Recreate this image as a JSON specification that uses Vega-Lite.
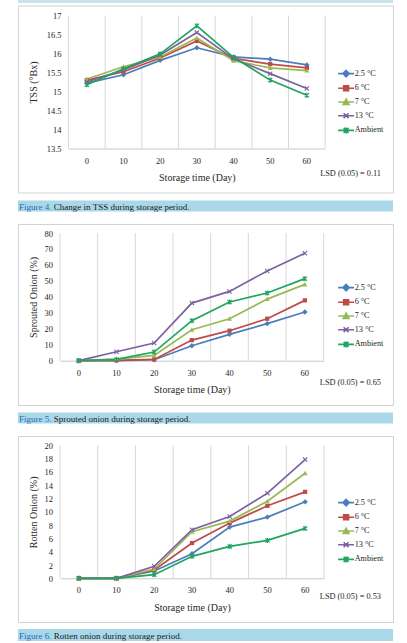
{
  "$schema": "https://vega.github.io/schema/vega-lite/v6.json",
  "background": "white",
  "padding": {"left": 17, "top": 0, "right": 0, "bottom": 0},
  "autosize": {"type": "pad"},
  "config": {
    "view": {"stroke": "#d2d2d2", "strokeWidth": 1},
    "font": "Liberation Serif",
    "axis": {
      "labelFont": "Liberation Serif",
      "titleFont": "Liberation Serif",
      "labelColor": "#262626",
      "titleColor": "#262626",
      "labelFontSize": 8.5,
      "titleFontSize": 10,
      "titleFontWeight": "normal"
    },
    "axisX": {
      "ticks": false,
      "grid": false,
      "domainColor": "#c8c8c8",
      "labelAngle": 0,
      "labelPadding": 7.5,
      "titlePadding": 8
    },
    "axisY": {
      "grid": false,
      "domain": false,
      "ticks": false,
      "labelPadding": 7.5,
      "format": "~r"
    },
    "legend": {
      "title": null,
      "orient": "none",
      "labelFont": "Liberation Serif",
      "labelFontSize": 8.2,
      "labelColor": "#262626",
      "symbolSize": 30,
      "symbolStrokeWidth": 1.6,
      "labelOffset": 4.5,
      "rowPadding": 1.7,
      "padding": 0
    },
    "title": {
      "font": "Liberation Serif",
      "fontSize": 8.3,
      "fontWeight": "normal",
      "color": "#262626",
      "orient": "bottom",
      "anchor": "end",
      "frame": "group",
      "baseline": "top",
      "dx": -12
    }
  },
  "datasets": {
    "tss": [
      {"day": 0, "cond": "2.5 °C", "value": 15.22}, {"day": 10, "cond": "2.5 °C", "value": 15.44}, {"day": 20, "cond": "2.5 °C", "value": 15.82}, {"day": 30, "cond": "2.5 °C", "value": 16.15}, {"day": 40, "cond": "2.5 °C", "value": 15.91}, {"day": 50, "cond": "2.5 °C", "value": 15.85}, {"day": 60, "cond": "2.5 °C", "value": 15.7},
      {"day": 0, "cond": "6 °C", "value": 15.3}, {"day": 10, "cond": "6 °C", "value": 15.52}, {"day": 20, "cond": "6 °C", "value": 15.88}, {"day": 30, "cond": "6 °C", "value": 16.33}, {"day": 40, "cond": "6 °C", "value": 15.87}, {"day": 50, "cond": "6 °C", "value": 15.72}, {"day": 60, "cond": "6 °C", "value": 15.62},
      {"day": 0, "cond": "7 °C", "value": 15.33}, {"day": 10, "cond": "7 °C", "value": 15.65}, {"day": 20, "cond": "7 °C", "value": 15.91}, {"day": 30, "cond": "7 °C", "value": 16.41}, {"day": 40, "cond": "7 °C", "value": 15.81}, {"day": 50, "cond": "7 °C", "value": 15.62}, {"day": 60, "cond": "7 °C", "value": 15.55},
      {"day": 0, "cond": "13 °C", "value": 15.25}, {"day": 10, "cond": "13 °C", "value": 15.57}, {"day": 20, "cond": "13 °C", "value": 15.96}, {"day": 30, "cond": "13 °C", "value": 16.55}, {"day": 40, "cond": "13 °C", "value": 15.86}, {"day": 50, "cond": "13 °C", "value": 15.47}, {"day": 60, "cond": "13 °C", "value": 15.08},
      {"day": 0, "cond": "Ambient", "value": 15.18}, {"day": 10, "cond": "Ambient", "value": 15.6}, {"day": 20, "cond": "Ambient", "value": 15.99}, {"day": 30, "cond": "Ambient", "value": 16.73}, {"day": 40, "cond": "Ambient", "value": 15.9}, {"day": 50, "cond": "Ambient", "value": 15.3}, {"day": 60, "cond": "Ambient", "value": 14.9}
    ],
    "sprout": [
      {"day": 0, "cond": "2.5 °C", "value": 0}, {"day": 10, "cond": "2.5 °C", "value": 0.1}, {"day": 20, "cond": "2.5 °C", "value": 0.6}, {"day": 30, "cond": "2.5 °C", "value": 9.4}, {"day": 40, "cond": "2.5 °C", "value": 16.5}, {"day": 50, "cond": "2.5 °C", "value": 23.2}, {"day": 60, "cond": "2.5 °C", "value": 30.5},
      {"day": 0, "cond": "6 °C", "value": 0}, {"day": 10, "cond": "6 °C", "value": 0.2}, {"day": 20, "cond": "6 °C", "value": 0.8}, {"day": 30, "cond": "6 °C", "value": 12.9}, {"day": 40, "cond": "6 °C", "value": 18.8}, {"day": 50, "cond": "6 °C", "value": 26.3}, {"day": 60, "cond": "6 °C", "value": 37.8},
      {"day": 0, "cond": "7 °C", "value": 0}, {"day": 10, "cond": "7 °C", "value": 1}, {"day": 20, "cond": "7 °C", "value": 3.3}, {"day": 30, "cond": "7 °C", "value": 19.4}, {"day": 40, "cond": "7 °C", "value": 26.3}, {"day": 50, "cond": "7 °C", "value": 38.6}, {"day": 60, "cond": "7 °C", "value": 47.8},
      {"day": 0, "cond": "13 °C", "value": 0}, {"day": 10, "cond": "13 °C", "value": 5.6}, {"day": 20, "cond": "13 °C", "value": 11.1}, {"day": 30, "cond": "13 °C", "value": 36.1}, {"day": 40, "cond": "13 °C", "value": 43.4}, {"day": 50, "cond": "13 °C", "value": 56.2}, {"day": 60, "cond": "13 °C", "value": 67.3},
      {"day": 0, "cond": "Ambient", "value": 0}, {"day": 10, "cond": "Ambient", "value": 0.8}, {"day": 20, "cond": "Ambient", "value": 5.4}, {"day": 30, "cond": "Ambient", "value": 25.1}, {"day": 40, "cond": "Ambient", "value": 36.8}, {"day": 50, "cond": "Ambient", "value": 42.4}, {"day": 60, "cond": "Ambient", "value": 51.4}
    ],
    "rot": [
      {"day": 0, "cond": "2.5 °C", "value": 0}, {"day": 10, "cond": "2.5 °C", "value": 0}, {"day": 20, "cond": "2.5 °C", "value": 1.1}, {"day": 30, "cond": "2.5 °C", "value": 3.7}, {"day": 40, "cond": "2.5 °C", "value": 7.7}, {"day": 50, "cond": "2.5 °C", "value": 9.2}, {"day": 60, "cond": "2.5 °C", "value": 11.5},
      {"day": 0, "cond": "6 °C", "value": 0}, {"day": 10, "cond": "6 °C", "value": 0}, {"day": 20, "cond": "6 °C", "value": 1.25}, {"day": 30, "cond": "6 °C", "value": 5.3}, {"day": 40, "cond": "6 °C", "value": 8.3}, {"day": 50, "cond": "6 °C", "value": 10.9}, {"day": 60, "cond": "6 °C", "value": 13},
      {"day": 0, "cond": "7 °C", "value": 0}, {"day": 10, "cond": "7 °C", "value": 0}, {"day": 20, "cond": "7 °C", "value": 1.4}, {"day": 30, "cond": "7 °C", "value": 7}, {"day": 40, "cond": "7 °C", "value": 8.6}, {"day": 50, "cond": "7 °C", "value": 11.6}, {"day": 60, "cond": "7 °C", "value": 15.8},
      {"day": 0, "cond": "13 °C", "value": 0}, {"day": 10, "cond": "13 °C", "value": 0}, {"day": 20, "cond": "13 °C", "value": 1.8}, {"day": 30, "cond": "13 °C", "value": 7.3}, {"day": 40, "cond": "13 °C", "value": 9.3}, {"day": 50, "cond": "13 °C", "value": 12.8}, {"day": 60, "cond": "13 °C", "value": 17.85},
      {"day": 0, "cond": "Ambient", "value": 0}, {"day": 10, "cond": "Ambient", "value": 0}, {"day": 20, "cond": "Ambient", "value": 0.55}, {"day": 30, "cond": "Ambient", "value": 3.3}, {"day": 40, "cond": "Ambient", "value": 4.8}, {"day": 50, "cond": "Ambient", "value": 5.7}, {"day": 60, "cond": "Ambient", "value": 7.5}
    ],
    "cap4": [{"num": "Figure 4.", "desc": "Change in TSS during storage period."}],
    "cap5": [{"num": "Figure 5.", "desc": "Sprouted onion during storage period."}],
    "cap6": [{"num": "Figure 6.", "desc": "Rotten onion during storage period."}],
    "blank": [{"t": ""}]
  },
  "spacing": 11,
  "resolve": {
    "scale": {"color": "independent", "shape": "independent"},
    "legend": {"color": "independent", "shape": "independent"}
  },
  "vconcat": [
    {
      "spacing": 1.5,
      "resolve": {
        "scale": {"color": "independent", "shape": "independent"},
        "legend": {"color": "independent", "shape": "independent"}
      },
      "vconcat": [
        {
          "width": 375, "height": 3,
          "view": {"fill": "#c9e2ec", "stroke": null},
          "data": {"name": "blank"},
          "mark": {"type": "text", "fontSize": 1},
          "encoding": {"text": {"field": "t"}}
        },
        {
          "spacing": 7,
          "resolve": {
            "scale": {"color": "independent", "shape": "independent"},
            "legend": {"color": "independent", "shape": "independent"}
          },
          "vconcat": [
            {
              "width": 375, "height": 187,
              "view": {"stroke": "#d2d2d2", "strokeWidth": 1},
              "data": {"name": "tss"},
              "title": {"text": "LSD (0.05) = 0.11", "offset": -24},
              "encoding": {
                "x": {"field": "day", "type": "ordinal", "bandPosition": 0.5,
                  "scale": {"type": "band", "range": [50.5, 307.2], "paddingInner": 0, "paddingOuter": 0},
                  "axis": {"title": "Storage time (Day)", "offset": -44}},
                "y": {"field": "value", "type": "quantitative",
                  "scale": {"domain": [13.5, 17], "range": [143, 10], "nice": false, "zero": false},
                  "axis": {"title": "TSS (°Bx)", "offset": -50.5, "titlePadding": 8, "values": [13.5, 14, 14.5, 15, 15.5, 16, 16.5, 17]}},
                "color": {"field": "cond", "type": "nominal",
                  "scale": {"domain": ["2.5 °C", "6 °C", "7 °C", "13 °C", "Ambient"], "range": ["#4A7EBB", "#BE4B48", "#98B954", "#7D60A0", "#1EA55E"]},
                  "legend": {"legendX": 324, "legendY": 64}}
              },
              "layer": [
                {"transform": [{"filter": {"field": "cond", "equal": "2.5 °C"}}], "mark": {"type": "rule", "strokeWidth": 1},
                  "encoding": {"x": {"field": "day", "type": "ordinal", "bandPosition": 0}, "y": {"datum": 13.5}, "y2": {"datum": 17}, "color": {"value": "#d9d9d9"}}},
                {"transform": [{"filter": {"field": "day", "equal": 60}}, {"filter": {"field": "cond", "equal": "2.5 °C"}}], "mark": {"type": "rule", "strokeWidth": 1},
                  "encoding": {"x": {"field": "day", "type": "ordinal", "bandPosition": 1}, "y": {"datum": 13.5}, "y2": {"datum": 17}, "color": {"value": "#d9d9d9"}}},
                {"mark": {"type": "line", "strokeWidth": 1.7}},
                {"transform": [{"filter": {"field": "cond", "equal": "2.5 °C"}}], "mark": {"type": "point", "shape": "M0,-1.15L1.15,0L0,1.15L-1.15,0Z", "filled": true, "size": 22, "opacity": 1}},
                {"transform": [{"filter": {"field": "cond", "equal": "6 °C"}}], "mark": {"type": "point", "shape": "M-0.9,-0.9L0.9,-0.9L0.9,0.9L-0.9,0.9Z", "filled": true, "size": 22, "opacity": 1}},
                {"transform": [{"filter": {"field": "cond", "equal": "7 °C"}}], "mark": {"type": "point", "shape": "M0,-1.05L1.05,0.85L-1.05,0.85Z", "filled": true, "size": 22, "opacity": 1}},
                {"transform": [{"filter": {"field": "cond", "equal": "13 °C"}}], "mark": {"type": "point", "shape": "M-0.9,-0.9L0.9,0.9M-0.9,0.9L0.9,-0.9", "filled": false, "size": 22, "opacity": 1, "strokeWidth": 1.1}},
                {"transform": [{"filter": {"field": "cond", "equal": "Ambient"}}], "mark": {"type": "point", "shape": "M-0.9,-0.9L0.9,0.9M-0.9,0.9L0.9,-0.9M0,-1.1L0,1.1", "filled": false, "size": 22, "opacity": 1, "strokeWidth": 1.1}},
                {"transform": [{"filter": "false"}], "mark": {"type": "point", "filled": true, "opacity": 1},
                  "encoding": {"shape": {"field": "cond", "type": "nominal",
                    "scale": {"domain": ["2.5 °C", "6 °C", "7 °C", "13 °C", "Ambient"], "range": ["M-2.9,0L2.9,0M0,-1.15L1.15,0L0,1.15L-1.15,0Z", "M-2.9,0L2.9,0M-0.9,-0.9L0.9,-0.9L0.9,0.9L-0.9,0.9Z", "M-2.9,0L2.9,0M0,-1.05L1.05,0.85L-1.05,0.85Z", "M-2.9,0L2.9,0M-0.9,-0.9L0.9,0.9M-0.9,0.9L0.9,-0.9", "M-2.9,0L2.9,0M-0.9,-0.9L0.9,0.9M-0.9,0.9L0.9,-0.9M0,-1.1L0,1.1"]}}}}
              ]
            },
            {
              "width": 375, "height": 11,
              "view": {"fill": "#a9d8e9", "stroke": null},
              "data": {"name": "cap4"},
              "layer": [
                {"mark": {"type": "text", "align": "left", "baseline": "middle", "x": 1, "y": 6, "fontSize": 9, "font": "Liberation Serif", "color": "#2a6cb5"}, "encoding": {"text": {"field": "num"}}},
                {"mark": {"type": "text", "align": "left", "baseline": "middle", "x": 1, "dx": 34.8, "y": 6, "fontSize": 9, "font": "Liberation Serif", "color": "#1a1a1a"}, "encoding": {"text": {"field": "desc"}}}
              ]
            }
          ]
        }
      ]
    },
    {
      "spacing": 6.5,
      "resolve": {
        "scale": {"color": "independent", "shape": "independent"},
        "legend": {"color": "independent", "shape": "independent"}
      },
      "vconcat": [
        {
          "width": 375, "height": 181,
          "view": {"stroke": "#d2d2d2", "strokeWidth": 1},
          "data": {"name": "sprout"},
          "title": {"text": "LSD (0.05) = 0.65", "offset": -26.8},
          "encoding": {
            "x": {"field": "day", "type": "ordinal", "bandPosition": 0.5,
              "scale": {"type": "band", "range": [42, 305.7], "paddingInner": 0, "paddingOuter": 0},
              "axis": {"title": "Storage time (Day)", "offset": -44.3}},
            "y": {"field": "value", "type": "quantitative",
              "scale": {"domain": [0, 80], "range": [136.7, 9], "nice": false},
              "axis": {"title": "Sprouted Onion (%)", "offset": -42, "titlePadding": 6, "values": [0, 10, 20, 30, 40, 50, 60, 70, 80]}},
            "color": {"field": "cond", "type": "nominal",
              "scale": {"domain": ["2.5 °C", "6 °C", "7 °C", "13 °C", "Ambient"], "range": ["#4A7EBB", "#BE4B48", "#98B954", "#7D60A0", "#1EA55E"]},
              "legend": {"legendX": 324, "legendY": 59.5}}
          },
          "layer": [
            {"transform": [{"filter": {"field": "cond", "equal": "2.5 °C"}}], "mark": {"type": "rule", "strokeWidth": 1},
              "encoding": {"x": {"field": "day", "type": "ordinal", "bandPosition": 0}, "y": {"datum": 0}, "y2": {"datum": 80}, "color": {"value": "#d9d9d9"}}},
            {"transform": [{"filter": {"field": "day", "equal": 60}}, {"filter": {"field": "cond", "equal": "2.5 °C"}}], "mark": {"type": "rule", "strokeWidth": 1},
              "encoding": {"x": {"field": "day", "type": "ordinal", "bandPosition": 1}, "y": {"datum": 0}, "y2": {"datum": 80}, "color": {"value": "#d9d9d9"}}},
            {"mark": {"type": "line", "strokeWidth": 1.7}},
            {"transform": [{"filter": {"field": "cond", "equal": "2.5 °C"}}], "mark": {"type": "point", "shape": "M0,-1.15L1.15,0L0,1.15L-1.15,0Z", "filled": true, "size": 22, "opacity": 1}},
            {"transform": [{"filter": {"field": "cond", "equal": "6 °C"}}], "mark": {"type": "point", "shape": "M-0.9,-0.9L0.9,-0.9L0.9,0.9L-0.9,0.9Z", "filled": true, "size": 22, "opacity": 1}},
            {"transform": [{"filter": {"field": "cond", "equal": "7 °C"}}], "mark": {"type": "point", "shape": "M0,-1.05L1.05,0.85L-1.05,0.85Z", "filled": true, "size": 22, "opacity": 1}},
            {"transform": [{"filter": {"field": "cond", "equal": "13 °C"}}], "mark": {"type": "point", "shape": "M-0.9,-0.9L0.9,0.9M-0.9,0.9L0.9,-0.9", "filled": false, "size": 22, "opacity": 1, "strokeWidth": 1.1}},
            {"transform": [{"filter": {"field": "cond", "equal": "Ambient"}}], "mark": {"type": "point", "shape": "M-0.9,-0.9L0.9,0.9M-0.9,0.9L0.9,-0.9M0,-1.1L0,1.1", "filled": false, "size": 22, "opacity": 1, "strokeWidth": 1.1}},
            {"transform": [{"filter": "false"}], "mark": {"type": "point", "filled": true, "opacity": 1},
              "encoding": {"shape": {"field": "cond", "type": "nominal",
                "scale": {"domain": ["2.5 °C", "6 °C", "7 °C", "13 °C", "Ambient"], "range": ["M-2.9,0L2.9,0M0,-1.15L1.15,0L0,1.15L-1.15,0Z", "M-2.9,0L2.9,0M-0.9,-0.9L0.9,-0.9L0.9,0.9L-0.9,0.9Z", "M-2.9,0L2.9,0M0,-1.05L1.05,0.85L-1.05,0.85Z", "M-2.9,0L2.9,0M-0.9,-0.9L0.9,0.9M-0.9,0.9L0.9,-0.9", "M-2.9,0L2.9,0M-0.9,-0.9L0.9,0.9M-0.9,0.9L0.9,-0.9M0,-1.1L0,1.1"]}}}}
          ]
        },
        {
          "width": 375, "height": 11,
          "view": {"fill": "#a9d8e9", "stroke": null},
          "data": {"name": "cap5"},
          "layer": [
            {"mark": {"type": "text", "align": "left", "baseline": "middle", "x": 1, "y": 6, "fontSize": 9, "font": "Liberation Serif", "color": "#2a6cb5"}, "encoding": {"text": {"field": "num"}}},
            {"mark": {"type": "text", "align": "left", "baseline": "middle", "x": 1, "dx": 34.8, "y": 6, "fontSize": 9, "font": "Liberation Serif", "color": "#1a1a1a"}, "encoding": {"text": {"field": "desc"}}}
          ]
        }
      ]
    },
    {
      "spacing": 6,
      "resolve": {
        "scale": {"color": "independent", "shape": "independent"},
        "legend": {"color": "independent", "shape": "independent"}
      },
      "vconcat": [
        {
          "width": 375, "height": 186,
          "view": {"stroke": "#d2d2d2", "strokeWidth": 1},
          "data": {"name": "rot"},
          "title": {"text": "LSD (0.05) = 0.53", "offset": -30.4},
          "encoding": {
            "x": {"field": "day", "type": "ordinal", "bandPosition": 0.5,
              "scale": {"type": "band", "range": [42, 306], "paddingInner": 0, "paddingOuter": 0},
              "axis": {"title": "Storage time (Day)", "offset": -43.7}},
            "y": {"field": "value", "type": "quantitative",
              "scale": {"domain": [0, 20], "range": [142.3, 9.3], "nice": false},
              "axis": {"title": "Rotten Onion (%)", "offset": -42, "titlePadding": 6, "values": [0, 2, 4, 6, 8, 10, 12, 14, 16, 18, 20]}},
            "color": {"field": "cond", "type": "nominal",
              "scale": {"domain": ["2.5 °C", "6 °C", "7 °C", "13 °C", "Ambient"], "range": ["#4A7EBB", "#BE4B48", "#98B954", "#7D60A0", "#1EA55E"]},
              "legend": {"legendX": 324, "legendY": 62.5}}
          },
          "layer": [
            {"transform": [{"filter": {"field": "cond", "equal": "2.5 °C"}}], "mark": {"type": "rule", "strokeWidth": 1},
              "encoding": {"x": {"field": "day", "type": "ordinal", "bandPosition": 0}, "y": {"datum": 0}, "y2": {"datum": 20}, "color": {"value": "#d9d9d9"}}},
            {"transform": [{"filter": {"field": "day", "equal": 60}}, {"filter": {"field": "cond", "equal": "2.5 °C"}}], "mark": {"type": "rule", "strokeWidth": 1},
              "encoding": {"x": {"field": "day", "type": "ordinal", "bandPosition": 1}, "y": {"datum": 0}, "y2": {"datum": 20}, "color": {"value": "#d9d9d9"}}},
            {"mark": {"type": "line", "strokeWidth": 1.7}},
            {"transform": [{"filter": {"field": "cond", "equal": "2.5 °C"}}], "mark": {"type": "point", "shape": "M0,-1.15L1.15,0L0,1.15L-1.15,0Z", "filled": true, "size": 22, "opacity": 1}},
            {"transform": [{"filter": {"field": "cond", "equal": "6 °C"}}], "mark": {"type": "point", "shape": "M-0.9,-0.9L0.9,-0.9L0.9,0.9L-0.9,0.9Z", "filled": true, "size": 22, "opacity": 1}},
            {"transform": [{"filter": {"field": "cond", "equal": "7 °C"}}], "mark": {"type": "point", "shape": "M0,-1.05L1.05,0.85L-1.05,0.85Z", "filled": true, "size": 22, "opacity": 1}},
            {"transform": [{"filter": {"field": "cond", "equal": "13 °C"}}], "mark": {"type": "point", "shape": "M-0.9,-0.9L0.9,0.9M-0.9,0.9L0.9,-0.9", "filled": false, "size": 22, "opacity": 1, "strokeWidth": 1.1}},
            {"transform": [{"filter": {"field": "cond", "equal": "Ambient"}}], "mark": {"type": "point", "shape": "M-0.9,-0.9L0.9,0.9M-0.9,0.9L0.9,-0.9M0,-1.1L0,1.1", "filled": false, "size": 22, "opacity": 1, "strokeWidth": 1.1}},
            {"transform": [{"filter": "false"}], "mark": {"type": "point", "filled": true, "opacity": 1},
              "encoding": {"shape": {"field": "cond", "type": "nominal",
                "scale": {"domain": ["2.5 °C", "6 °C", "7 °C", "13 °C", "Ambient"], "range": ["M-2.9,0L2.9,0M0,-1.15L1.15,0L0,1.15L-1.15,0Z", "M-2.9,0L2.9,0M-0.9,-0.9L0.9,-0.9L0.9,0.9L-0.9,0.9Z", "M-2.9,0L2.9,0M0,-1.05L1.05,0.85L-1.05,0.85Z", "M-2.9,0L2.9,0M-0.9,-0.9L0.9,0.9M-0.9,0.9L0.9,-0.9", "M-2.9,0L2.9,0M-0.9,-0.9L0.9,0.9M-0.9,0.9L0.9,-0.9M0,-1.1L0,1.1"]}}}}
          ]
        },
        {
          "width": 375, "height": 12,
          "view": {"fill": "#a9d8e9", "stroke": null},
          "data": {"name": "cap6"},
          "layer": [
            {"mark": {"type": "text", "align": "left", "baseline": "middle", "x": 1, "y": 6.5, "fontSize": 9, "font": "Liberation Serif", "color": "#2a6cb5"}, "encoding": {"text": {"field": "num"}}},
            {"mark": {"type": "text", "align": "left", "baseline": "middle", "x": 1, "dx": 34.8, "y": 6.5, "fontSize": 9, "font": "Liberation Serif", "color": "#1a1a1a"}, "encoding": {"text": {"field": "desc"}}}
          ]
        }
      ]
    }
  ]
}
